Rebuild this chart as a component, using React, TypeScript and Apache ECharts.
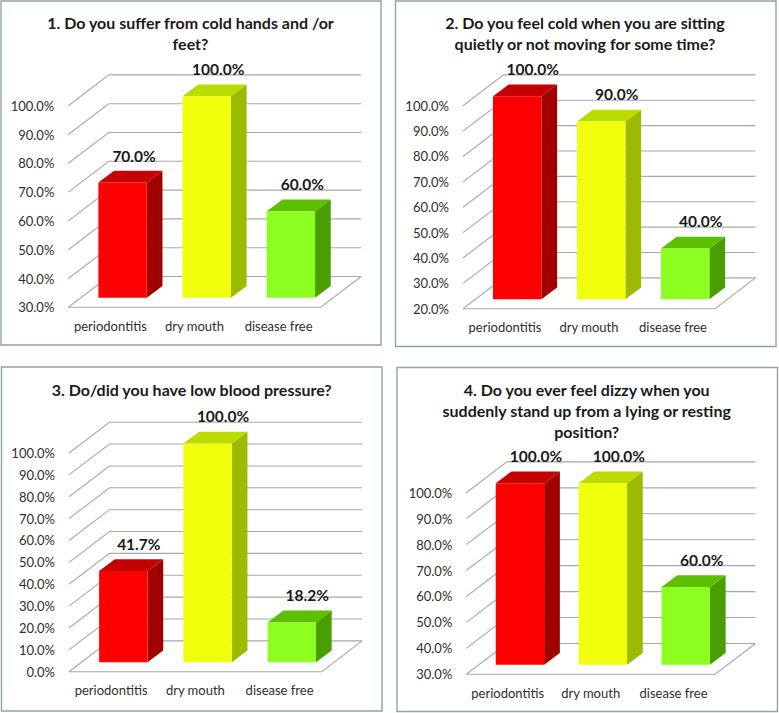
import React, { useEffect, useRef } from "react";
import * as echarts from "echarts";

const categories = ["periodontitis", "dry mouth", "disease free"];
const values1 = [70, 100, 60];
const values2 = [100, 90, 40];
const values3 = [41.7, 100, 18.2];
const values4 = [100, 100, 60];
const ticks1 = [30, 40, 50, 60, 70, 80, 90, 100];
const ticks2 = [20, 30, 40, 50, 60, 70, 80, 90, 100];
const ticks3 = [0, 10, 20, 30, 40, 50, 60, 70, 80, 90, 100];
const ticks4 = [30, 40, 50, 60, 70, 80, 90, 100];
const title1 = "1. Do you suffer from cold hands and /or\nfeet?";
const title2 = "2. Do you feel cold when you are sitting\nquietly or not moving for some time?";
const title3 = "3. Do/did you have low blood pressure?";
const title4 = "4. Do you ever feel dizzy when you\nsuddenly stand up from a lying or resting\nposition?";

const FONT = "Lato";
const faces = [
  { front: "#ff0000", top: "#c40000", side: "#a00000" },
  { front: "#f2ff0c", top: "#bcdc00", side: "#9cba00" },
  { front: "#8cff20", top: "#5cc000", side: "#4a9e00" },
];
const panels = [
  { values: values1, ticks: ticks1, title: title1, labelDx: 11.5, box: [1, 1, 380, 344], L: 68.3, R: 320.7, T: 105.7, B: 307.3, tx: 190.5, ty: 11.5 },
  { values: values2, ticks: ticks2, title: title2, labelDx: 15.5, box: [395.5, 1, 380.5, 345.5], L: 463, R: 715, T: 105.7, B: 308.7, tx: 585, ty: 11.5 },
  { values: values3, ticks: ticks3, title: title3, labelDx: 15.5, box: [1.5, 367, 380.5, 344], L: 69, R: 321.7, T: 453, B: 671.7, tx: 191.7, ty: 378.5 },
  { values: values4, ticks: ticks4, title: title4, labelDx: 16, box: [397, 367.5, 380.5, 344], L: 466.3, R: 715, T: 492.7, B: 674.3, tx: 586.7, ty: 378.8 },
];
const WALL_DX = 40.5;
const WALL_DY = -30.8;
const BAR_W = 48.4;
const BAR_DX = 12.2;
const BAR_DY = -9.5;
const DEPTH_X = 15.7;
const DEPTH_Y = -11.8;
const LINE = "#a2acaa";

function wallItem(_p: any, api: any) {
  const cs = _p.coordSys;
  const y = api.coord([0, api.value(1)])[1];
  const l = cs.x, r = cs.x + cs.width;
  const style = { stroke: LINE, lineWidth: 1.1, fill: "none" };
  const children: any[] = [
    { type: "polyline", shape: { points: [[l, y], [l + WALL_DX, y + WALL_DY], [r + WALL_DX, y + WALL_DY]] }, style },
  ];
  if (api.value(0) === 1) {
    children.push({ type: "polyline", shape: { points: [[l, y], [r, y], [r + WALL_DX, y + WALL_DY]] }, style });
  }
  return { type: "group", children };
}

function makeBarItem(labelDx: number) {
  return function barItem(_p: any, api: any) {
    const i = api.value(0);
    const v = api.value(1);
    const minV = api.value(2);
    const c = faces[i];
    const top = api.coord([i, v]);
    const base = api.coord([i, minV]);
    const x0 = top[0] + BAR_DX - BAR_W / 2;
    const x1 = x0 + BAR_W;
    const yT = top[1] + BAR_DY;
    const yB = base[1] + BAR_DY;
    return {
      type: "group",
      children: [
        { type: "polygon", shape: { points: [[x1, yT], [x1 + DEPTH_X, yT + DEPTH_Y], [x1 + DEPTH_X, yB + DEPTH_Y], [x1, yB]] }, style: { fill: c.side } },
        { type: "polygon", shape: { points: [[x0, yT], [x0 + DEPTH_X, yT + DEPTH_Y], [x1 + DEPTH_X, yT + DEPTH_Y], [x1, yT]] }, style: { fill: c.top } },
        { type: "rect", shape: { x: x0, y: yT, width: BAR_W, height: yB - yT }, style: { fill: c.front } },
        {
          type: "text",
          style: {
            text: v.toFixed(1) + "%",
            x: top[0] + BAR_DX + labelDx,
            y: yT + DEPTH_Y - 15.3,
            align: "center",
            verticalAlign: "middle",
            fill: "#1a1a1a",
            font: `bold 15.5px ${FONT}`,
          },
        },
      ],
    };
  };
}

export default function App() {
  const ref = useRef<HTMLDivElement>(null);
  useEffect(() => {
    const chart = echarts.init(ref.current!, undefined, { renderer: "svg" });
    chart.setOption({
      animation: false,
      backgroundColor: "#ffffff",
      title: panels.map((p) => ({
        text: p.title,
        left: p.tx,
        top: p.ty,
        textAlign: "center",
        padding: 0,
        textStyle: { fontFamily: FONT, fontWeight: "bold", fontSize: 16, lineHeight: 21, color: "#1a1a1a" },
      })),
      graphic: panels.map((p) => ({
        type: "rect",
        shape: { x: p.box[0], y: p.box[1], width: p.box[2], height: p.box[3] },
        style: { fill: "none", stroke: "#8fa3a1", lineWidth: 1.4 },
        silent: true,
      })),
      grid: panels.map((p) => ({ left: p.L, top: p.T, width: p.R - p.L, height: p.B - p.T })),
      xAxis: panels.map((_, i) => ({
        type: "category",
        gridIndex: i,
        data: categories,
        axisLine: { show: false },
        axisTick: { show: false },
        splitLine: { show: false },
        axisLabel: { interval: 0, margin: 12, fontFamily: FONT, fontSize: 13, color: "#2e2e2e" },
      })),
      yAxis: panels.map((p, i) => ({
        type: "value",
        gridIndex: i,
        min: p.ticks[0],
        max: p.ticks[p.ticks.length - 1],
        interval: 10,
        axisLine: { show: false },
        axisTick: { show: false },
        splitLine: { show: false },
        axisLabel: { margin: 14, fontFamily: FONT, fontSize: 13, color: "#2e2e2e", formatter: (v: number) => v.toFixed(1) + "%" },
      })),
      series: panels.flatMap((p, i) => [
        {
          type: "custom",
          xAxisIndex: i,
          yAxisIndex: i,
          z: 1,
          silent: true,
          renderItem: wallItem,
          encode: { x: 0, y: 1 },
          data: p.ticks.map((t, k) => [k === 0 ? 1 : 0, t]),
        },
        {
          type: "custom",
          xAxisIndex: i,
          yAxisIndex: i,
          z: 2,
          silent: true,
          renderItem: makeBarItem(p.labelDx),
          encode: { x: 0, y: 1 },
          data: p.values.map((v, k) => [k, v, p.ticks[0]]),
        },
      ]),
    });
    return () => chart.dispose();
  }, []);
  return <div ref={ref} style={{ position: "absolute", left: 0, top: 0, width: 779, height: 713 }} />;
}
